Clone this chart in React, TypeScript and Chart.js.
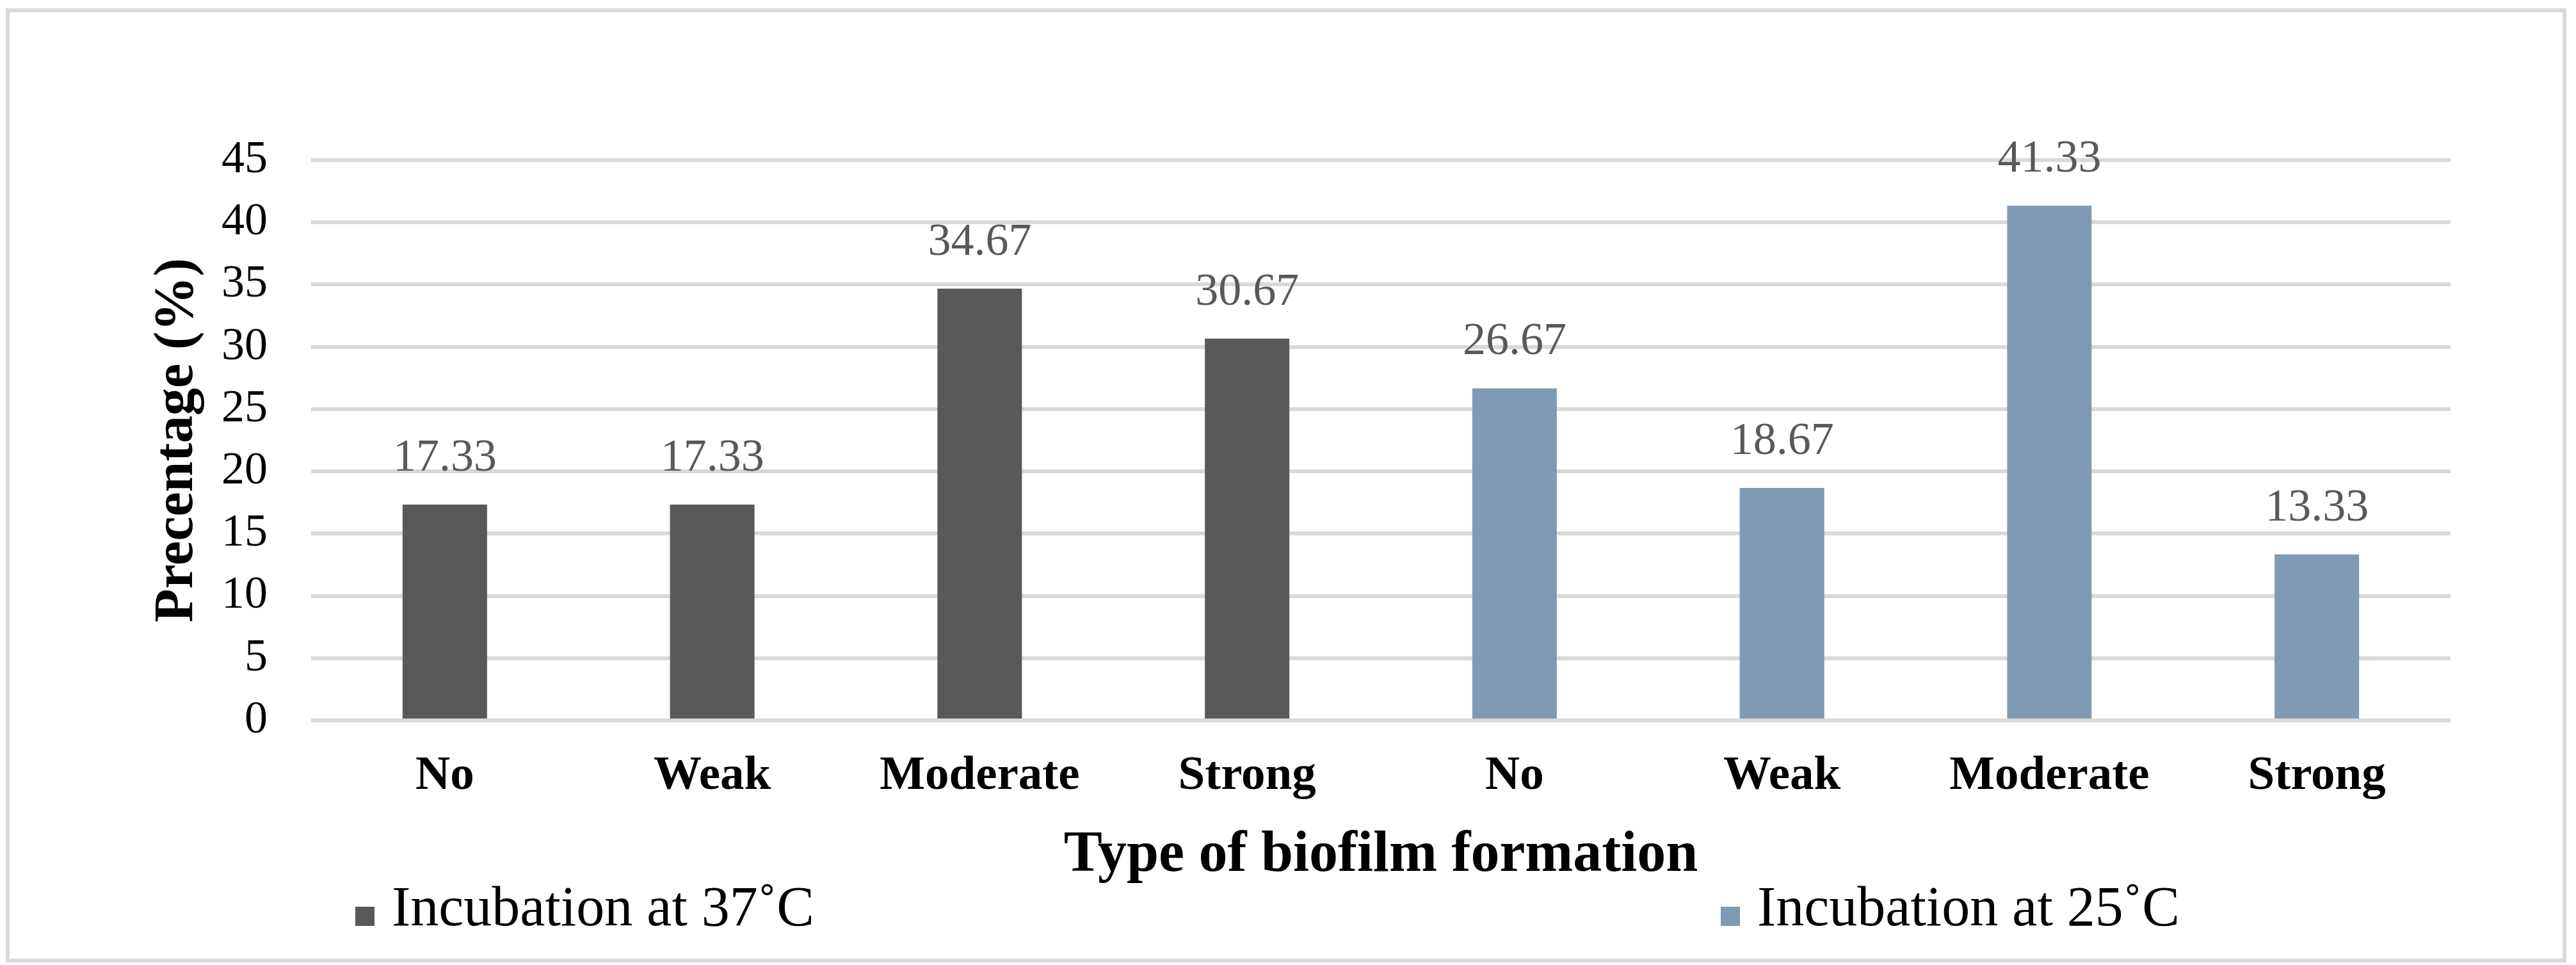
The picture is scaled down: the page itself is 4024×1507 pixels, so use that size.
import React, { useEffect, useRef } from "react";
import { Chart, registerables } from "chart.js";

Chart.register(...registerables);

const categories = ["No", "Weak", "Moderate", "Strong", "No", "Weak", "Moderate", "Strong"];
const series37 = [17.33, 17.33, 34.67, 30.67, null, null, null, null];
const series25 = [null, null, null, null, 26.67, 18.67, 41.33, 13.33];
const seriesNames = ["Incubation at 37˚C", "Incubation at 25˚C"];
const seriesColors = ["#595959", "#7F9AB5"];
const yMin = 0;
const yMax = 45;
const yStep = 5;
const xTitle = "Type of biofilm formation";
const yTitle = "Precentage (%)";

const FONT = '"Liberation Serif", "Times New Roman", serif';

const CANVAS_W = 3988;
const CANVAS_H = 1478;

const valueLabels = {
  id: "valueLabels",
  afterDatasetsDraw(chart: any) {
    const ctx = chart.ctx;
    ctx.save();
    ctx.font = `72px ${FONT}`;
    ctx.fillStyle = "#595959";
    ctx.textAlign = "center";
    ctx.textBaseline = "alphabetic";
    chart.data.datasets.forEach((ds: any, di: number) => {
      const meta = chart.getDatasetMeta(di);
      meta.data.forEach((el: any, i: number) => {
        const v = ds.data[i];
        if (v == null) return;
        ctx.fillText(v.toFixed(2), el.x, el.y - 53);
      });
    });
    ctx.restore();
  },
};

const bottomLegend = {
  id: "bottomLegend",
  afterDraw(chart: any) {
    const ctx = chart.ctx;
    const xs = [540, 2673];
    const midY = 1403;
    ctx.save();
    chart.data.datasets.forEach((ds: any, i: number) => {
      ctx.fillStyle = ds.backgroundColor;
      ctx.fillRect(xs[i], midY - 6, 30, 30);
      ctx.fillStyle = "#000000";
      ctx.font = `88px ${FONT}`;
      ctx.textAlign = "left";
      ctx.textBaseline = "middle";
      ctx.fillText(ds.label, xs[i] + 57, midY);
    });
    ctx.restore();
  },
};

export default function App() {
  const canvasRef = useRef<HTMLCanvasElement | null>(null);

  useEffect(() => {
    if (!canvasRef.current) return;
    const chart = new Chart(canvasRef.current, {
      type: "bar",
      data: {
        labels: categories,
        datasets: [
          {
            label: seriesNames[0],
            data: series37,
            backgroundColor: seriesColors[0],
            borderWidth: 0,
          },
          {
            label: seriesNames[1],
            data: series25,
            backgroundColor: seriesColors[1],
            borderWidth: 0,
          },
        ],
      },
      options: {
        animation: false,
        responsive: true,
        maintainAspectRatio: false,
        devicePixelRatio: 1,
        skipNull: true,
        categoryPercentage: 1,
        barPercentage: 0.316,
        layout: { padding: { top: 231, right: 175, bottom: 98, left: 0 } },
        plugins: {
          legend: { display: false },
          tooltip: { enabled: false },
        },
        scales: {
          x: {
            grid: { display: false, drawTicks: false },
            border: { display: false },
            ticks: {
              color: "#000000",
              font: { family: FONT, size: 75, weight: "bold" },
              padding: 43,
              maxRotation: 0,
              autoSkip: false,
            },
            title: {
              display: true,
              text: xTitle,
              color: "#000000",
              font: { family: FONT, size: 90, weight: "bold" },
              padding: { top: 0, bottom: 8 },
            },
            afterFit(scale: any) {
              scale.height = 274;
            },
          },
          y: {
            min: yMin,
            max: yMax,
            grid: { color: "#D9D9D9", lineWidth: 6, drawTicks: false },
            border: { display: false },
            ticks: {
              stepSize: yStep,
              color: "#000000",
              font: { family: FONT, size: 72 },
              padding: 68,
            },
            title: {
              display: true,
              text: yTitle,
              color: "#000000",
              font: { family: FONT, size: 86, weight: "bold" },
              padding: { top: 211, bottom: 0 },
            },
            afterFit(scale: any) {
              scale.width = 471;
            },
          },
        },
      } as any,
      plugins: [valueLabels, bottomLegend],
    });
    return () => chart.destroy();
  }, []);

  return (
    <div
      style={{
        position: "absolute",
        left: 9,
        top: 13,
        width: 4000,
        height: 1490,
        boxSizing: "border-box",
        border: "6px solid #D9D9D9",
        background: "#ffffff",
      }}
    >
      <div style={{ position: "relative", width: CANVAS_W, height: CANVAS_H }}>
        <canvas ref={canvasRef} />
      </div>
    </div>
  );
}
